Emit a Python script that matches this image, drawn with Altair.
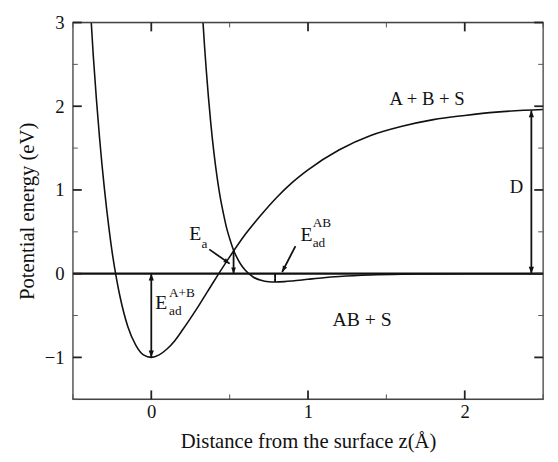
import math
import altair as alt
import pandas as pd

FONT = "Liberation Serif"
INK = "#111111"
W, H = 478, 383
XDOM = [-0.5, 2.5]
YDOM = [-1.5, 3.0]

# ---- curve data ----
ab_atoms_z = [-0.383, -0.37, -0.35, -0.33, -0.30, -0.27, -0.25, -0.22, -0.20, -0.15, -0.10, -0.05,
              0.00, 0.05, 0.10, 0.15, 0.20, 0.30, 0.40, 0.50, 0.60, 0.70, 0.80, 0.90, 1.00,
              1.20, 1.40, 1.60, 1.80, 2.00, 2.20, 2.50]
ab_atoms_e = [3.00, 2.60, 2.08, 1.62, 1.03, 0.54, 0.26, -0.08, -0.27, -0.63, -0.85, -0.97,
              -1.00, -0.97, -0.90, -0.80, -0.67, -0.39, -0.09, 0.20, 0.47, 0.70, 0.91, 1.09, 1.24,
              1.48, 1.65, 1.76, 1.84, 1.89, 1.93, 1.96]

mol_z = [0.330, 0.340, 0.350, 0.365, 0.380, 0.400, 0.420, 0.440, 0.460, 0.480, 0.500, 0.525,
         0.550, 0.575, 0.600, 0.650, 0.700, 0.750, 0.790, 0.850, 0.900, 1.000, 1.100, 1.200,
         1.400, 1.600, 1.800, 2.000, 2.500]
mol_e = [3.00, 2.71, 2.45, 2.10, 1.79, 1.44, 1.15, 0.91, 0.72, 0.55, 0.42, 0.28,
         0.18, 0.10, 0.04, -0.04, -0.08, -0.097, -0.10, -0.095, -0.087, -0.067, -0.048, -0.034,
         -0.016, -0.007, -0.003, -0.001, 0.0]

# ---- ticks ----
x_major = [0, 1, 2]
x_minor = [-0.5, 0.5, 1.5, 2.5]
y_major = [-1, 0, 1, 2, 3]
y_minor = [-1.5, -0.5, 0.5, 1.5, 2.5]

# ---- annotations ----
dbl_x = [0.0, 2.425, 0.79]
dbl_top = [0.0, 1.95, 0.0]
dbl_bot = [-1.0, 0.0, -0.10]
dbl_head = [196, 196, 30]

ea_x = [0.525]
ea_top = [0.275]
ea_bot = [0.0]

ptr_x1 = [0.37, 0.92]
ptr_y1 = [0.29, 0.33]
ptr_x2 = [0.50, 0.835]
ptr_y2 = [0.12, 0.02]

big_text = ["A + B + S", "AB + S", "D", "E", "E", "E"]
big_x = [1.76, 1.345, 2.33, 0.063, 0.28, 0.99]
big_y = [2.08, -0.56, 1.03, -0.35, 0.47, 0.46]
big_size = [19, 20, 19, 20, 20, 20]

small_text = ["A+B", "ad", "a", "AB", "ad"]
small_x = [0.113, 0.113, 0.32, 1.03, 1.03]
small_y = [-0.235, -0.45, 0.35, 0.61, 0.36]
small_size = [13.5, 13.5, 13.5, 13.5, 13.5]

# ---- build tables ----
curves = pd.DataFrame({
    "z": ab_atoms_z + mol_z,
    "e": ab_atoms_e + mol_e,
    "c": ["A+B"] * len(ab_atoms_z) + ["AB"] * len(mol_z),
})

xs = alt.Scale(domain=XDOM, nice=False, zero=False)
ys = alt.Scale(domain=YDOM, nice=False, zero=False)

x_axis = alt.Axis(values=x_major, ticks=False, tickSize=0, domain=False, grid=False,
                  labelFont=FONT, labelFontSize=19, labelColor=INK, labelPadding=4,
                  title="Distance from the surface z(Å)", titleFont=FONT, titleFontSize=21,
                  titleFontWeight="normal", titleColor=INK, titlePadding=9)
y_axis = alt.Axis(values=y_major, ticks=False, tickSize=0, domain=False, grid=False,
                  labelFont=FONT, labelFontSize=19, labelColor=INK, labelPadding=9,
                  title="Potential energy (eV)", titleFont=FONT, titleFontSize=21,
                  titleFontWeight="normal", titleColor=INK, titlePadding=7)


def X(f):
    return alt.X(f, scale=xs, axis=x_axis)


def Y(f):
    return alt.Y(f, scale=ys, axis=y_axis)


lines = alt.Chart(curves).mark_line(color=INK, strokeWidth=1.6, interpolate="monotone",
                                    clip=True).encode(
    x=X("z:Q"), y=Y("e:Q"), detail="c:N",
)

zero = alt.Chart(pd.DataFrame({"y": [0.0]})).mark_rule(color=INK, strokeWidth=2.2).encode(
    y=Y("y:Q"),
)

# plot frame
frame = alt.Chart(pd.DataFrame({"k": [0]})).mark_rect(
    fill="white", fillOpacity=0, stroke="#444444", strokeWidth=1.3
).encode(x=alt.value(0), x2=alt.value(W), y=alt.value(0), y2=alt.value(H))


# ticks drawn inside the frame
def xticks(vals, length, width, color):
    df = pd.DataFrame({"x": vals})
    top = alt.Chart(df).mark_rule(color=color, strokeWidth=width).encode(
        x=X("x:Q"), y=alt.value(0), y2=alt.value(length))
    bot = alt.Chart(df).mark_rule(color=color, strokeWidth=width).encode(
        x=X("x:Q"), y=alt.value(H), y2=alt.value(H - length))
    return [top, bot]


def yticks(vals, length, width, color):
    df = pd.DataFrame({"y": vals})
    left = alt.Chart(df).mark_rule(color=color, strokeWidth=width).encode(
        y=Y("y:Q"), x=alt.value(0), x2=alt.value(length))
    right = alt.Chart(df).mark_rule(color=color, strokeWidth=width).encode(
        y=Y("y:Q"), x=alt.value(W), x2=alt.value(W - length))
    return [left, right]


tick_layers = (xticks(x_major, 9, 1.8, "#222") + xticks(x_minor, 5, 1, "#555")
               + yticks(y_major, 9, 1.8, "#222") + yticks(y_minor, 5, 1, "#555"))

# arrows
UP = "M0,0 L-0.38,1 L0.38,1 Z"
PXX = W / (XDOM[1] - XDOM[0])
PXY = H / (YDOM[1] - YDOM[0])

shafts = pd.DataFrame({
    "x": dbl_x + ea_x + ptr_x1,
    "y": dbl_top + ea_top + ptr_y1,
    "x2": dbl_x + ea_x + ptr_x2,
    "y2": dbl_bot + ea_bot + ptr_y2,
})
shaft_layer = alt.Chart(shafts).mark_rule(color=INK, strokeWidth=1.8).encode(
    x=X("x:Q"), y=Y("y:Q"), x2="x2:Q", y2="y2:Q",
)

hx, hy, ha, hs = [], [], [], []
for x, t, b, s in zip(dbl_x, dbl_top, dbl_bot, dbl_head):
    hx += [x, x]; hy += [t, b]; ha += [0, 180]; hs += [s, s]
for x, t, b in zip(ea_x, ea_top, ea_bot):
    hx.append(x); hy.append(b); ha.append(180); hs.append(160)
for x1, y1, x2, y2 in zip(ptr_x1, ptr_y1, ptr_x2, ptr_y2):
    ang = math.degrees(math.atan2((x2 - x1) * PXX, (y2 - y1) * PXY))
    hx.append(x2); hy.append(y2); ha.append(ang % 360); hs.append(160)
heads = pd.DataFrame({"x": hx, "y": hy, "a": ha, "s": hs})
head_layer = alt.Chart(heads).mark_point(shape=UP, filled=True, color=INK, opacity=1,
                                         strokeWidth=0).encode(
    x=X("x:Q"), y=Y("y:Q"),
    angle=alt.Angle("a:Q", scale=None), size=alt.Size("s:Q", scale=None, legend=None),
)

big = pd.DataFrame({"t": big_text, "x": big_x, "y": big_y, "s": big_size})
big_layer = alt.Chart(big).mark_text(font=FONT, color=INK, align="center",
                                     baseline="middle").encode(
    x=X("x:Q"), y=Y("y:Q"), text="t:N", size=alt.Size("s:Q", scale=None, legend=None),
)
small = pd.DataFrame({"t": small_text, "x": small_x, "y": small_y, "s": small_size})
small_layer = alt.Chart(small).mark_text(font=FONT, color=INK, align="left",
                                         baseline="middle").encode(
    x=X("x:Q"), y=Y("y:Q"), text="t:N", size=alt.Size("s:Q", scale=None, legend=None),
)

chart = alt.layer(
    lines, zero, frame, *tick_layers, shaft_layer, head_layer, big_layer, small_layer
).properties(
    width=W, height=H,
    padding={"left": 8, "top": 2, "right": 5, "bottom": 5},
).configure_view(
    stroke="#444444", strokeWidth=1.3,
).configure(background="white")

chart.save("out.html", embed_options={"renderer": "svg", "actions": False})
